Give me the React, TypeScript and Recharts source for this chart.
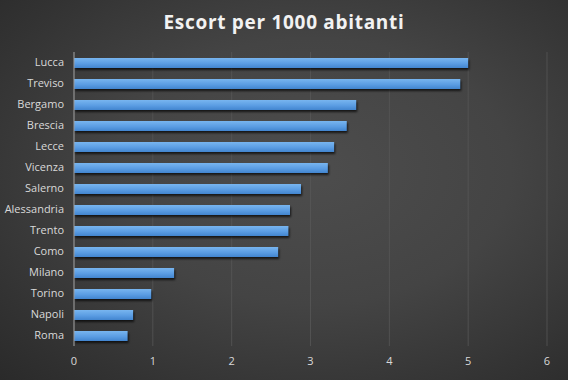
import { Bar, BarChart, CartesianGrid, XAxis, YAxis } from 'recharts';

const cities = [
  'Lucca',
  'Treviso',
  'Bergamo',
  'Brescia',
  'Lecce',
  'Vicenza',
  'Salerno',
  'Alessandria',
  'Trento',
  'Como',
  'Milano',
  'Torino',
  'Napoli',
  'Roma',
];

const escortPer1000 = [5.0, 4.9, 3.58, 3.46, 3.3, 3.22, 2.88, 2.74, 2.72, 2.59, 1.27, 0.98, 0.75, 0.68];

const xTicks = [0, 1, 2, 3, 4, 5, 6];

const data = cities.map((city, i) => ({ city, value: escortPer1000[i] }));

const tickStyle = { fontSize: 11, fill: '#d9d9d9', fontFamily: 'Open Sans, sans-serif' };

// bar with a soft drop shadow, like the office chart style
function ShadowBar(props: any) {
  const { x, y, width, height } = props;
  if (!width || width <= 0) return null;
  return (
    <g>
      <rect
        x={x + 1}
        y={y + 2}
        width={width}
        height={height}
        fill="rgba(0,0,0,0.7)"
        filter="url(#barShadow)"
      />
      <rect x={x} y={y} width={width} height={height} fill="url(#barFill)" />
    </g>
  );
}

export default function App() {
  return (
    <div
      style={{
        position: 'absolute',
        left: 0,
        top: 0,
        width: 568,
        height: 380,
        background: 'radial-gradient(ellipse at 55% 45%, #4d4d4d 0%, #444 45%, #333 80%, #2a2a2a 100%)',
      }}
    >
      <div
        style={{
          position: 'absolute',
          top: 9,
          width: 568,
          textAlign: 'center',
          color: '#f2f2f2',
          fontFamily: 'Open Sans, sans-serif',
          fontWeight: 700,
          fontSize: 19,
          letterSpacing: 0.7,
        }}
      >
        Escort per 1000 abitanti
      </div>
      <BarChart
        width={568}
        height={380}
        data={data}
        layout="vertical"
        margin={{ top: 52, right: 21, left: 0, bottom: 0 }}
        barCategoryGap={0}
      >
        <defs>
          <linearGradient id="barFill" x1="0" y1="0" x2="0" y2="1">
            <stop offset="0%" stopColor="#78b5ef" />
            <stop offset="55%" stopColor="#5b9de3" />
            <stop offset="100%" stopColor="#4285cf" />
          </linearGradient>
          <filter id="barShadow" x="-5%" y="-50%" width="110%" height="200%">
            <feGaussianBlur stdDeviation="1.2" />
          </filter>
        </defs>
        <CartesianGrid horizontal={false} stroke="#575757" strokeWidth={0.8} />
        <XAxis
          type="number"
          domain={[0, 6]}
          ticks={xTicks}
          tick={tickStyle}
          tickLine={false}
          axisLine={false}
          tickMargin={5}
          height={34}
        />
        <YAxis
          type="category"
          dataKey="city"
          width={74}
          tick={tickStyle}
          tickLine={false}
          axisLine={{ stroke: '#9a9a9a' }}
          tickMargin={4}
          interval={0}
        />
        <Bar dataKey="value" barSize={10} shape={ShadowBar} isAnimationActive={false} />
      </BarChart>
    </div>
  );
}
